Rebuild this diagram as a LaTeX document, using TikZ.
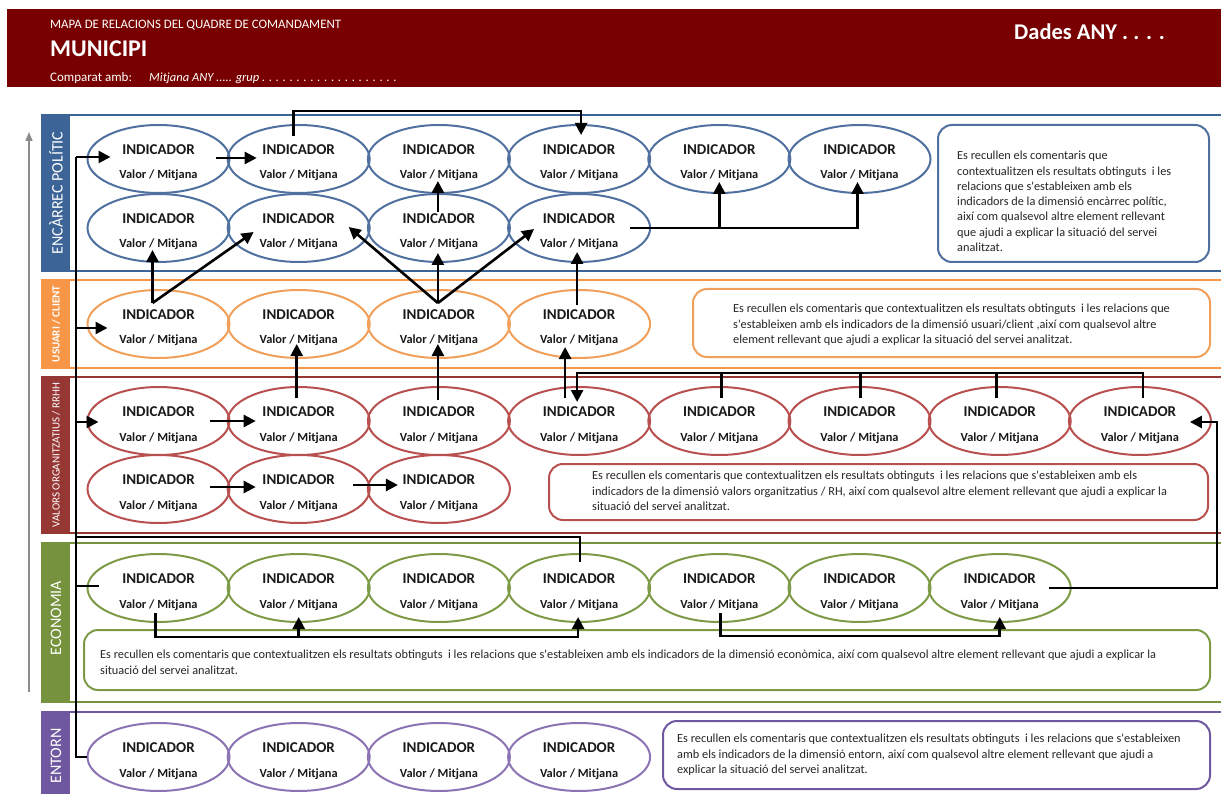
\documentclass[tikz,border=0pt]{standalone}
\usepackage{fontspec}
\setmainfont{Carlito}[Ligatures=TeXOff]
\usetikzlibrary{arrows.meta,calc,shapes.geometric}
\definecolor{hdr}{RGB}{120,0,0}
\definecolor{cblue}{RGB}{60,100,150}
\definecolor{eblue}{RGB}{80,112,160}
\definecolor{corange}{RGB}{247,150,70}
\definecolor{eorange}{RGB}{240,160,90}
\definecolor{cred}{RGB}{150,55,52}
\definecolor{ered}{RGB}{185,80,80}
\definecolor{cgreen}{RGB}{118,146,60}
\definecolor{egreen}{RGB}{125,155,70}
\definecolor{cpurple}{RGB}{112,88,160}
\definecolor{epurple}{RGB}{140,115,180}
\tikzset{
  indell/.style={ellipse, minimum width=142pt, minimum height=68pt, line width=2pt, inner sep=0pt},
  indt/.style={font=\fontsize{15}{17}\selectfont\bfseries, inner sep=0pt, text height=9.7pt, text depth=0pt, text=black!90},
  indv/.style={font=\fontsize{12.4}{14}\selectfont\bfseries, inner sep=0pt, text height=8pt, text depth=0pt, text=black!90},
  conn/.style={line width=2.6pt, black},
  arr/.style={conn, -{Triangle[length=12pt,width=12pt]}},
  cbox/.style={rounded corners=14pt, line width=2pt, fill=white},
  ctext/.style={font=\fontsize{12.3}{15.3}\selectfont, align=left, anchor=north west, inner sep=0pt, text=black!85},
  frame/.style={line width=2pt},
  blabel/.style={rotate=90, text=white, inner sep=0pt},
  htext/.style={text=white, anchor=base west, inner sep=0pt}
}
\newcommand\indic[4]{%
  \node[indell,draw=#4] (#1) at ({#2},{#3}) {};
  \node[indt] (#1a) at ($(#1)+(0,-9)$) {INDICADOR};
  \node[indv] (#1b) at ($(#1)+(0,16)$) {Valor / Mitjana};}
\begin{document}
\begin{tikzpicture}[x=1pt,y=-1pt]
\useasboundingbox (0,0) rectangle (1221,794);
\fill[white] (0,0) rectangle (1221,794);
% header
\fill[hdr] (7,9) rectangle (1221,87);
\node[htext, font=\fontsize{12.9}{14}\selectfont] (h1) at (50,29) {MAPA DE RELACIONS DEL QUADRE DE COMANDAMENT};
\node[htext, font=\fontsize{24}{26}\selectfont\bfseries] (h2) at (50,57) {MUNICIPI};
\node[htext, font=\fontsize{13}{14}\selectfont] (h3) at (50,82) {Comparat amb:};
\node[htext, font=\fontsize{12.5}{14}\selectfont\itshape] (h4) at (149,82) {Mitjana ANY ..... grup . . . . . . . . . . . . . . . . . . . .};
\node[htext, font=\fontsize{22.5}{24}\selectfont\bfseries] (h5) at (1014,40) {Dades ANY . . . .};
% axis arrow
\draw[black!45, line width=1.5pt, -{Triangle[length=9pt,width=7pt]}] (29,692) -- (29,132);
% section frames
\draw[frame, cblue] (42,115) rectangle (1240,271);
\fill[cblue] (42,115) rectangle (70,271);
\node[blabel, font=\fontsize{16}{18}\selectfont] (s1) at (56,193) {ENCÀRREC POLÍTIC};
\draw[frame, corange] (42,280) rectangle (1240,368);
\fill[corange] (42,280) rectangle (70,368);
\node[blabel, font=\fontsize{11}{13}\selectfont\bfseries] (s2) at (56,324) {USUARI / CLIENT};
\draw[frame, cred] (42,377) rectangle (1240,533);
\fill[cred] (42,377) rectangle (70,533);
\node[blabel, font=\fontsize{11}{13}\selectfont] (s3) at (56,455) {VALORS ORGANITZATIUS / RRHH};
\draw[frame, cgreen] (42,543) rectangle (1240,702);
\fill[cgreen] (42,543) rectangle (70,702);
\node[blabel, font=\fontsize{16}{18}\selectfont] (s4) at (56,618) {ECONOMIA};
\draw[frame, cpurple] (42,712) rectangle (1240,820);
\fill[cpurple] (42,712) rectangle (70,820);
\node[blabel, font=\fontsize{16}{18}\selectfont] (s5) at (56,756) {ENTORN};
% comment boxes
\draw[cbox, draw=eblue] (938,125) rectangle (1209,262);
\node[ctext] (k1) at (957,151) {Es recullen els comentaris que\\contextualitzen els resultats obtinguts\ \ i les\\relacions que s'estableixen amb els\\indicadors de la dimensió encàrrec polític,\\així com qualsevol altre element rellevant\\que ajudi a explicar la situació del servei\\analitzat.};
\draw[cbox, draw=eorange] (693,289) rectangle (1210,357);
\node[ctext] (k2) at (733,304) {Es recullen els comentaris que contextualitzen els resultats obtinguts\ \ i les relacions que\\s'estableixen amb els indicadors de la dimensió usuari/client ,així com qualsevol altre\\element rellevant que ajudi a explicar la situació del servei analitzat.};
\draw[cbox, draw=ered] (549,464) rectangle (1208,520);
\node[ctext] (k3) at (592,471) {Es recullen els comentaris que contextualitzen els resultats obtinguts\ \ i les relacions que s'estableixen amb els\\indicadors de la dimensió valors organitzatius / RH, així com qualsevol altre element rellevant que ajudi a explicar la\\situació del servei analitzat.};
\draw[cbox, draw=egreen] (84,630) rectangle (1210,690);
\node[ctext] (k4) at (100,650) {Es recullen els comentaris que contextualitzen els resultats obtinguts\ \ i les relacions que s'estableixen amb els indicadors de la dimensió econòmica, així com qualsevol altre element rellevant que ajudi a explicar la\\situació del servei analitzat.};
\draw[cbox, draw=cpurple] (663,721) rectangle (1210,789);
\node[ctext] (k5) at (677,734) {Es recullen els comentaris que contextualitzen els resultats obtinguts\ \ i les relacions que s'estableixen\\amb els indicadors de la dimensió entorn, així com qualsevol altre element rellevant que ajudi a\\explicar la situació del servei analitzat.};
% indicators
\foreach \i in {1,...,6} {\indic{p\i}{158.5+140.2*(\i-1)}{159}{eblue}}
\foreach \i in {1,...,4} {\indic{q\i}{158.5+140.2*(\i-1)}{228}{eblue}}
\foreach \i in {1,...,4} {\indic{u\i}{158.5+140.2*(\i-1)}{324}{eorange}}
\foreach \i in {1,...,8} {\indic{v\i}{158.5+140.2*(\i-1)}{421}{ered}}
\foreach \i in {1,...,3} {\indic{w\i}{158.5+140.2*(\i-1)}{489}{ered}}
\foreach \i in {1,...,7} {\indic{c\i}{158.5+140.2*(\i-1)}{588}{egreen}}
\foreach \i in {1,...,4} {\indic{t\i}{158.5+140.2*(\i-1)}{757}{epurple}}
% trunk
\coordinate (tkTop) at (76,157);
\coordinate (tkQ) at (76,537);
\draw[conn] (tkTop) -- (tkTop |- t1) -- (t1.west);
\draw[arr] (tkTop) -- ($(p1)+(-48,-2)$);
\coordinate (ua) at ($(u1)+(-51,4)$);
\draw[arr] (tkTop |- ua) -- (ua);
\coordinate (va) at ($(v1)+(-60,1)$);
\draw[arr] (tkTop |- va) -- (va);
\coordinate (ca) at ($(c1)+(-60,-2)$);
\draw[conn] (tkTop |- ca) -- (ca);
% encarrec
\draw[arr] ($(p1)+(57,-1)$) -- ($(p2)+(-42,-1)$);
\draw[arr] ($(p2)+(-5,-23)$) -- ++(0,-25) -| ($(p4)+(2,-24)$);
\draw[arr] ($(q3)+(-1,-16)$) -- ($(p3)+(-1,22)$);
\draw[arr] ($(q4)+(51,0)$) -| ($(p6)+(-2,23)$);
\draw[arr] (p5 |- q4) -- ($(p5)+(0,23)$);
% usuari to encarrec
\coordinate (uv1) at ($(u1)+(-6,-21)$);
\draw[arr] (uv1) -- ($(q1)+(-6,22)$);
\draw[arr] (uv1) -- ($(q2)+(-45,4)$);
\coordinate (uv3) at ($(u3)+(-1,-21)$);
\draw[arr] (uv3) -- ($(q2)+(50,-1)$);
\draw[arr] (uv3) -- ($(q3)+(-1,25)$);
\draw[arr] (uv3) -- ($(q4)+(-45,1)$);
\draw[arr] ($(u4)+(-2,-19)$) -- ($(q4)+(-2,24)$);
% valors to usuari
\draw[arr] ($(v2)+(-2,-23)$) -- ($(u2)+(-2,20)$);
\draw[arr] ($(v3)+(-1,-21)$) -- ($(u3)+(-1,20)$);
\draw[arr] ($(v4)+(-14,-23)$) -- ($(u4)+(-14,23)$);
% valors bracket
\draw[arr] ($(v8)+(3,-23)$) -- ++(0,-25) -| ($(v4)+(-2,-19)$);
\draw[conn] ($(v5)+(2,-23)$) -- ++(0,-25);
\draw[conn] ($(v6)+(1,-23)$) -- ++(0,-25);
\draw[conn] ($(v7)+(-3,-23)$) -- ++(0,-25);
% valors chains
\draw[arr] ($(v1)+(51,0)$) -- ($(v2)+(-43,0)$);
\draw[arr] ($(w1)+(51,-2)$) -- ($(w2)+(-43,-2)$);
\draw[arr] ($(w2)+(54,-4)$) -- ($(w3)+(-41,-4)$);
% economia
\draw[arr] ($(c7)+(49,0)$) -| ($(v8)+(77,1)$) -- ($(v8)+(50,1)$);
\draw[conn] ($(c4)+(1,-26)$) -- ++(0,-25) -- (tkQ);
\draw[arr] ($(c1)+(-3,25)$) -- ++(0,24) -| ($(c4)+(-1,29)$);
\draw[arr] ($(c2)+(0,49)$) -- ($(c2)+(0,29)$);
\draw[arr] ($(c5)+(1,25)$) -- ++(0,23) -| ($(c7)+(0,29)$);
\end{tikzpicture}
\end{document}
